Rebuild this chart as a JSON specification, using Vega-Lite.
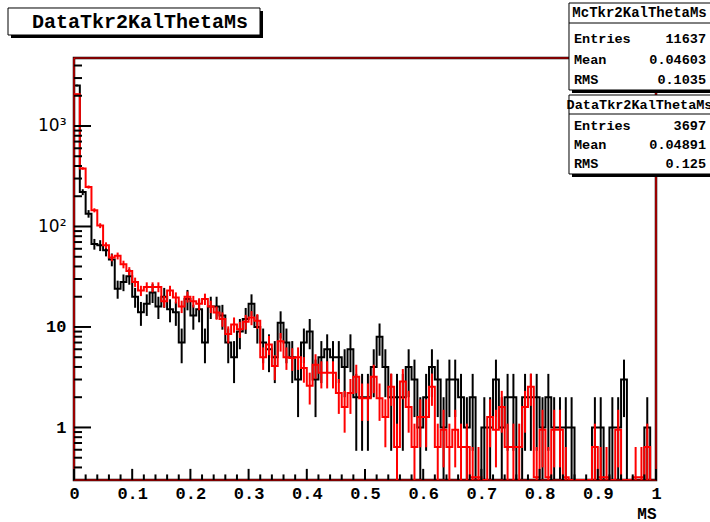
{
"$schema":"https://vega.github.io/schema/vega-lite/v6.json",
"width":582,"height":422,
"autosize":{"type":"none"},
"padding":{"left":74,"top":58,"right":54,"bottom":42},
"background":"white",
"config":{"view":{"stroke":"black","strokeWidth":2.5},"axis":{"grid":false}},
"datasets":{
"data":[
{"x":0.00,"n":2530},{"x":0.01,"n":220},{"x":0.02,"n":134},{"x":0.03,"n":67},{"x":0.04,"n":65},{"x":0.05,"n":58},{"x":0.06,"n":47},{"x":0.07,"n":24},{"x":0.08,"n":28},{"x":0.09,"n":32},
{"x":0.10,"n":20},{"x":0.11,"n":14},{"x":0.12,"n":17},{"x":0.13,"n":22},{"x":0.14,"n":16},{"x":0.15,"n":20},{"x":0.16,"n":15},{"x":0.17,"n":14},{"x":0.18,"n":7},{"x":0.19,"n":19},
{"x":0.20,"n":13},{"x":0.21,"n":15},{"x":0.22,"n":7},{"x":0.23,"n":16},{"x":0.24,"n":16},{"x":0.25,"n":13},{"x":0.26,"n":7},{"x":0.27,"n":5},{"x":0.28,"n":9},{"x":0.29,"n":12},
{"x":0.30,"n":17},{"x":0.31,"n":10},{"x":0.32,"n":7},{"x":0.33,"n":6},{"x":0.34,"n":5},{"x":0.35,"n":11},{"x":0.36,"n":7},{"x":0.37,"n":5},{"x":0.38,"n":3},{"x":0.39,"n":7},
{"x":0.40,"n":9},{"x":0.41,"n":3},{"x":0.42,"n":5},{"x":0.43,"n":6},{"x":0.44,"n":5},{"x":0.45,"n":5},{"x":0.46,"n":4},{"x":0.47,"n":6},{"x":0.48,"n":2},{"x":0.49,"n":2},
{"x":0.50,"n":2},{"x":0.51,"n":4},{"x":0.52,"n":8},{"x":0.53,"n":4},{"x":0.54,"n":2},{"x":0.55,"n":2},{"x":0.56,"n":2},{"x":0.57,"n":4},{"x":0.58,"n":3},{"x":0.59,"n":1},
{"x":0.60,"n":2},{"x":0.61,"n":4},{"x":0.62,"n":3},{"x":0.63,"n":1},{"x":0.64,"n":3},{"x":0.65,"n":3},{"x":0.66,"n":2},{"x":0.67,"n":1},{"x":0.68,"n":2},{"x":0.69,"n":0},
{"x":0.70,"n":1},{"x":0.71,"n":1},{"x":0.72,"n":3},{"x":0.73,"n":1},{"x":0.74,"n":2},{"x":0.75,"n":2},{"x":0.76,"n":0},{"x":0.77,"n":2},{"x":0.78,"n":2},{"x":0.79,"n":2},
{"x":0.80,"n":1},{"x":0.81,"n":2},{"x":0.82,"n":1},{"x":0.83,"n":1},{"x":0.84,"n":1},{"x":0.85,"n":1},{"x":0.86,"n":0},{"x":0.87,"n":0},{"x":0.88,"n":0},{"x":0.89,"n":1},
{"x":0.90,"n":1},{"x":0.91,"n":0},{"x":0.92,"n":1},{"x":0.93,"n":1},{"x":0.94,"n":3},{"x":0.95,"n":0},{"x":0.96,"n":0},{"x":0.97,"n":0},{"x":0.98,"n":1},{"x":0.99,"n":0}
],
"mc":[
{"x":0.00,"n":2075},{"x":0.01,"n":378},{"x":0.02,"n":247},{"x":0.03,"n":145},{"x":0.04,"n":102},{"x":0.05,"n":65},{"x":0.06,"n":49},{"x":0.07,"n":51},{"x":0.08,"n":42},{"x":0.09,"n":36},
{"x":0.10,"n":28},{"x":0.11,"n":23},{"x":0.12,"n":25},{"x":0.13,"n":25},{"x":0.14,"n":25},{"x":0.15,"n":18},{"x":0.16,"n":23},{"x":0.17,"n":19.6},{"x":0.18,"n":16},{"x":0.19,"n":20},
{"x":0.20,"n":18},{"x":0.21,"n":17},{"x":0.22,"n":19},{"x":0.23,"n":16},{"x":0.24,"n":13.9},{"x":0.25,"n":12},{"x":0.26,"n":8.5},{"x":0.27,"n":10.6},{"x":0.28,"n":9.5},{"x":0.29,"n":11.3},
{"x":0.30,"n":12.4},{"x":0.31,"n":11.5},{"x":0.32,"n":5},{"x":0.33,"n":6.7},{"x":0.34,"n":4.1},{"x":0.35,"n":7.2},{"x":0.36,"n":5},{"x":0.37,"n":4.9},{"x":0.38,"n":5},{"x":0.39,"n":3.9},
{"x":0.40,"n":2.6},{"x":0.41,"n":4.2},{"x":0.42,"n":3.5},{"x":0.43,"n":3.5},{"x":0.44,"n":3.5},{"x":0.45,"n":2.2},{"x":0.46,"n":1.6},{"x":0.47,"n":2.2},{"x":0.48,"n":3.2},{"x":0.49,"n":1.95},
{"x":0.50,"n":1.95},{"x":0.51,"n":3.2},{"x":0.52,"n":1.95},{"x":0.53,"n":1.27},{"x":0.54,"n":2.54},{"x":0.55,"n":0.64},{"x":0.56,"n":2.86},{"x":0.57,"n":1.6},{"x":0.58,"n":0.64},{"x":0.59,"n":1.27},
{"x":0.60,"n":1.27},{"x":0.61,"n":2.54},{"x":0.62,"n":0.64},{"x":0.63,"n":0.95},{"x":0.64,"n":0.64},{"x":0.65,"n":0.95},{"x":0.66,"n":0.64},{"x":0.67,"n":0.64},{"x":0.68,"n":0.32},{"x":0.69,"n":0.32},
{"x":0.70,"n":0},{"x":0.71,"n":1.27},{"x":0.72,"n":0.95},{"x":0.73,"n":1.6},{"x":0.74,"n":0.64},{"x":0.75,"n":0.64},{"x":0.76,"n":0.64},{"x":0.77,"n":1.6},{"x":0.78,"n":2.54},{"x":0.79,"n":0.32},
{"x":0.80,"n":0.95},{"x":0.81,"n":0.32},{"x":0.82,"n":0.95},{"x":0.83,"n":0.95},{"x":0.84,"n":0.32},{"x":0.85,"n":0},{"x":0.86,"n":0},{"x":0.87,"n":0},{"x":0.88,"n":0},{"x":0.89,"n":0.64},
{"x":0.90,"n":0.32},{"x":0.91,"n":0.32},{"x":0.92,"n":0},{"x":0.93,"n":0.95},{"x":0.94,"n":0},{"x":0.95,"n":0},{"x":0.96,"n":0.32},{"x":0.97,"n":0.32},{"x":0.98,"n":0.64},{"x":0.99,"n":0}
],
"xmajor":[{"v":0},{"v":0.1},{"v":0.2},{"v":0.3},{"v":0.4},{"v":0.5},{"v":0.6},{"v":0.7},{"v":0.8},{"v":0.9},{"v":1}],
"xminor":[{"v":0.02},{"v":0.04},{"v":0.06},{"v":0.08},{"v":0.12},{"v":0.14},{"v":0.16},{"v":0.18},{"v":0.22},{"v":0.24},{"v":0.26},{"v":0.28},{"v":0.32},{"v":0.34},{"v":0.36},{"v":0.38},{"v":0.42},{"v":0.44},{"v":0.46},{"v":0.48},{"v":0.52},{"v":0.54},{"v":0.56},{"v":0.58},{"v":0.62},{"v":0.64},{"v":0.66},{"v":0.68},{"v":0.72},{"v":0.74},{"v":0.76},{"v":0.78},{"v":0.82},{"v":0.84},{"v":0.86},{"v":0.88},{"v":0.92},{"v":0.94},{"v":0.96},{"v":0.98}],
"ymajor":[{"v":1},{"v":10},{"v":100},{"v":1000}],
"yminor":[{"v":0.4},{"v":0.5},{"v":0.6},{"v":0.7},{"v":0.8},{"v":0.9},{"v":2},{"v":3},{"v":4},{"v":5},{"v":6},{"v":7},{"v":8},{"v":9},{"v":20},{"v":30},{"v":40},{"v":50},{"v":60},{"v":70},{"v":80},{"v":90},{"v":200},{"v":300},{"v":400},{"v":500},{"v":600},{"v":700},{"v":800},{"v":900},{"v":2000},{"v":3000},{"v":4000}]
},
"layer":[
{
"data":{"name":"data"},
"transform":[{"calculate":"max(datum.n, 0.3)","as":"yv"}],
"mark":{"type":"line","interpolate":"step-after","color":"black","strokeWidth":2,"clip":true},
"encoding":{
"x":{"field":"x","type":"quantitative","scale":{"domain":[0,1],"nice":false,"zero":false},
"axis":{"orient":"bottom","values":[0,0.1,0.2,0.3,0.4,0.5,0.6,0.7,0.8,0.9,1],"ticks":false,"domain":false,
"labelExpr":"datum.value == 0 ? '0' : datum.value == 1 ? '1' : format(datum.value, '.1f')",
"labelFont":"Liberation Mono","labelFontWeight":"bold","labelFontSize":17,"labelColor":"black","labelPadding":5,"labelFlush":false,
"title":"MS","titleFont":"Liberation Mono","titleFontWeight":"bold","titleFontSize":16,"titleColor":"black","titleAnchor":"end","titlePadding":4}},
"y":{"field":"yv","type":"quantitative","scale":{"type":"log","domain":[0.3,4750],"nice":false},
"axis":{"orient":"left","values":[1,10,100,1000],"ticks":false,"domain":false,
"labelExpr":"datum.value == 1000 ? '10³' : datum.value == 100 ? '10²' : datum.value == 10 ? '10' : '1'",
"labelFont":{"condition":{"test":"datum.value >= 100","value":"DejaVu Sans"},"value":"Liberation Mono"},
"labelFontWeight":{"condition":{"test":"datum.value >= 100","value":"normal"},"value":"bold"},
"labelFontSize":17,"labelColor":"black","labelPadding":8,"labelFlush":false,"title":null}}
}
},
{
"data":{"name":"data"},
"transform":[{"filter":"datum.n > 0"},{"calculate":"max(datum.n - sqrt(datum.n), 0.3)","as":"lo"},{"calculate":"datum.n + sqrt(datum.n)","as":"hi"}],
"mark":{"type":"rule","color":"black","strokeWidth":2,"xOffset":2.91,"clip":true},
"encoding":{"x":{"field":"x","type":"quantitative"},"y":{"field":"lo","type":"quantitative"},"y2":{"field":"hi"}}
},
{
"data":{"name":"mc"},
"transform":[{"calculate":"max(datum.n, 0.3)","as":"yv"}],
"mark":{"type":"line","interpolate":"step-after","color":"#ff0000","strokeWidth":2,"clip":true},
"encoding":{"x":{"field":"x","type":"quantitative"},"y":{"field":"yv","type":"quantitative"}}
},
{
"data":{"name":"mc"},
"transform":[{"filter":"datum.n > 0"},{"calculate":"max(datum.n - sqrt(datum.n * 0.3177), 0.3)","as":"lo"},{"calculate":"datum.n + sqrt(datum.n * 0.3177)","as":"hi"}],
"mark":{"type":"rule","color":"#ff0000","strokeWidth":2,"xOffset":2.91,"clip":true},
"encoding":{"x":{"field":"x","type":"quantitative"},"y":{"field":"lo","type":"quantitative"},"y2":{"field":"hi"}}
},
{
"data":{"values":[{}]},
"mark":{"type":"rect","fillOpacity":0,"stroke":"#ff0000","strokeWidth":1.2},
"encoding":{"x":{"datum":0,"type":"quantitative"},"x2":{"datum":1},"y":{"datum":0.3,"type":"quantitative"},"y2":{"datum":4750}}
},
{
"data":{"name":"xmajor"},
"mark":{"type":"rule","color":"black","strokeWidth":2},
"encoding":{"x":{"field":"v","type":"quantitative"},"y":{"datum":0.3,"type":"quantitative"},"y2":{"datum":0.3871}}
},
{
"data":{"name":"xminor"},
"mark":{"type":"rule","color":"black","strokeWidth":2},
"encoding":{"x":{"field":"v","type":"quantitative"},"y":{"datum":0.3,"type":"quantitative"},"y2":{"datum":0.3408}}
},
{
"data":{"name":"ymajor"},
"mark":{"type":"rule","color":"black","strokeWidth":2},
"encoding":{"y":{"field":"v","type":"quantitative"},"x":{"datum":0,"type":"quantitative"},"x2":{"datum":0.0292}}
},
{
"data":{"name":"yminor"},
"mark":{"type":"rule","color":"black","strokeWidth":2},
"encoding":{"y":{"field":"v","type":"quantitative"},"x":{"datum":0,"type":"quantitative"},"x2":{"datum":0.01375}}
},
{
"data":{"values":[{}]},
"mark":{"type":"rect","fill":"black","xOffset":3,"x2Offset":3,"yOffset":3,"y2Offset":3},
"encoding":{"x":{"datum":-0.1134,"type":"quantitative"},"x2":{"datum":0.3196},"y":{"datum":14940,"type":"quantitative"},"y2":{"datum":8045}}
},
{
"data":{"values":[{}]},
"mark":{"type":"rect","fill":"white","stroke":"black","strokeWidth":1},
"encoding":{"x":{"datum":-0.1134,"type":"quantitative"},"x2":{"datum":0.3196},"y":{"datum":14940,"type":"quantitative"},"y2":{"datum":8045}}
},
{
"data":{"values":[{}]},
"mark":{"type":"text","text":"DataTkr2KalThetaMs","font":"Liberation Mono","fontWeight":"bold","fontSize":20,"color":"black","align":"center","baseline":"middle"},
"encoding":{"x":{"datum":0.1134,"type":"quantitative"},"y":{"datum":10962,"type":"quantitative"}}
},
{
"data":{"values":[{}]},
"mark":{"type":"rect","fill":"black","xOffset":3,"x2Offset":3,"yOffset":3,"y2Offset":3},
"encoding":{"x":{"datum":0.8505,"type":"quantitative"},"x2":{"datum":1.1014},"y":{"datum":16750,"type":"quantitative"},"y2":{"datum":2282}}
},
{
"data":{"values":[{}]},
"mark":{"type":"rect","fill":"white","stroke":"black","strokeWidth":1},
"encoding":{"x":{"datum":0.8505,"type":"quantitative"},"x2":{"datum":1.1014},"y":{"datum":16750,"type":"quantitative"},"y2":{"datum":2282}}
},
{
"data":{"values":[{}]},
"mark":{"type":"rule","color":"black","strokeWidth":1},
"encoding":{"x":{"datum":0.8505,"type":"quantitative"},"x2":{"datum":1.1014},"y":{"datum":10590,"type":"quantitative"}}
},
{
"data":{"values":[{}]},
"mark":{"type":"text","text":"McTkr2KalThetaMs","font":"Liberation Mono","fontWeight":"bold","fontSize":14,"color":"black","align":"center","baseline":"middle"},
"encoding":{"x":{"datum":0.9717,"type":"quantitative"},"y":{"datum":13320,"type":"quantitative"}}
},
{
"data":{"values":[{}]},
"mark":{"type":"text","text":"Entries","font":"Liberation Mono","fontWeight":"bold","fontSize":13.5,"color":"black","align":"left","baseline":"middle"},
"encoding":{"x":{"datum":0.8591,"type":"quantitative"},"y":{"datum":7340,"type":"quantitative"}}
},
{
"data":{"values":[{}]},
"mark":{"type":"text","text":"Mean","font":"Liberation Mono","fontWeight":"bold","fontSize":13.5,"color":"black","align":"left","baseline":"middle"},
"encoding":{"x":{"datum":0.8591,"type":"quantitative"},"y":{"datum":4538,"type":"quantitative"}}
},
{
"data":{"values":[{}]},
"mark":{"type":"text","text":"RMS","font":"Liberation Mono","fontWeight":"bold","fontSize":13.5,"color":"black","align":"left","baseline":"middle"},
"encoding":{"x":{"datum":0.8591,"type":"quantitative"},"y":{"datum":2869,"type":"quantitative"}}
},
{
"data":{"values":[{}]},
"mark":{"type":"text","text":"11637","font":"Liberation Mono","fontWeight":"bold","fontSize":13.5,"color":"black","align":"right","baseline":"middle"},
"encoding":{"x":{"datum":1.0859,"type":"quantitative"},"y":{"datum":7340,"type":"quantitative"}}
},
{
"data":{"values":[{}]},
"mark":{"type":"text","text":"0.04603","font":"Liberation Mono","fontWeight":"bold","fontSize":13.5,"color":"black","align":"right","baseline":"middle"},
"encoding":{"x":{"datum":1.0859,"type":"quantitative"},"y":{"datum":4538,"type":"quantitative"}}
},
{
"data":{"values":[{}]},
"mark":{"type":"text","text":"0.1035","font":"Liberation Mono","fontWeight":"bold","fontSize":13.5,"color":"black","align":"right","baseline":"middle"},
"encoding":{"x":{"datum":1.0859,"type":"quantitative"},"y":{"datum":2869,"type":"quantitative"}}
},
{
"data":{"values":[{}]},
"mark":{"type":"rect","fill":"black","xOffset":3,"x2Offset":3,"yOffset":3,"y2Offset":3},
"encoding":{"x":{"datum":0.8505,"type":"quantitative"},"x2":{"datum":1.1014},"y":{"datum":2034,"type":"quantitative"},"y2":{"datum":333}}
},
{
"data":{"values":[{}]},
"mark":{"type":"rect","fill":"white","stroke":"black","strokeWidth":1},
"encoding":{"x":{"datum":0.8505,"type":"quantitative"},"x2":{"datum":1.1014},"y":{"datum":2034,"type":"quantitative"},"y2":{"datum":333}}
},
{
"data":{"values":[{}]},
"mark":{"type":"rule","color":"black","strokeWidth":1},
"encoding":{"x":{"datum":0.8505,"type":"quantitative"},"x2":{"datum":1.1014},"y":{"datum":1316,"type":"quantitative"}}
},
{
"data":{"values":[{}]},
"mark":{"type":"text","text":"DataTkr2KalThetaMs","font":"Liberation Mono","fontWeight":"bold","fontSize":13.5,"color":"black","align":"center","baseline":"middle"},
"encoding":{"x":{"datum":0.9717,"type":"quantitative"},"y":{"datum":1618,"type":"quantitative"}}
},
{
"data":{"values":[{}]},
"mark":{"type":"text","text":"Entries","font":"Liberation Mono","fontWeight":"bold","fontSize":13.5,"color":"black","align":"left","baseline":"middle"},
"encoding":{"x":{"datum":0.8591,"type":"quantitative"},"y":{"datum":1000,"type":"quantitative"}}
},
{
"data":{"values":[{}]},
"mark":{"type":"text","text":"Mean","font":"Liberation Mono","fontWeight":"bold","fontSize":13.5,"color":"black","align":"left","baseline":"middle"},
"encoding":{"x":{"datum":0.8591,"type":"quantitative"},"y":{"datum":647,"type":"quantitative"}}
},
{
"data":{"values":[{}]},
"mark":{"type":"text","text":"RMS","font":"Liberation Mono","fontWeight":"bold","fontSize":13.5,"color":"black","align":"left","baseline":"middle"},
"encoding":{"x":{"datum":0.8591,"type":"quantitative"},"y":{"datum":419,"type":"quantitative"}}
},
{
"data":{"values":[{}]},
"mark":{"type":"text","text":"3697","font":"Liberation Mono","fontWeight":"bold","fontSize":13.5,"color":"black","align":"right","baseline":"middle"},
"encoding":{"x":{"datum":1.0859,"type":"quantitative"},"y":{"datum":1000,"type":"quantitative"}}
},
{
"data":{"values":[{}]},
"mark":{"type":"text","text":"0.04891","font":"Liberation Mono","fontWeight":"bold","fontSize":13.5,"color":"black","align":"right","baseline":"middle"},
"encoding":{"x":{"datum":1.0859,"type":"quantitative"},"y":{"datum":647,"type":"quantitative"}}
},
{
"data":{"values":[{}]},
"mark":{"type":"text","text":"0.125","font":"Liberation Mono","fontWeight":"bold","fontSize":13.5,"color":"black","align":"right","baseline":"middle"},
"encoding":{"x":{"datum":1.0859,"type":"quantitative"},"y":{"datum":419,"type":"quantitative"}}
}
]
}
